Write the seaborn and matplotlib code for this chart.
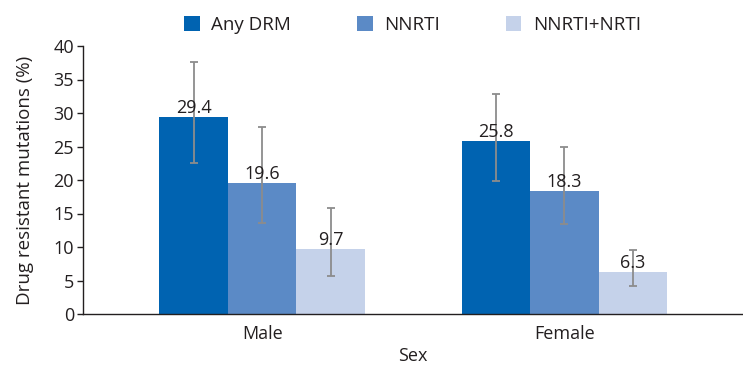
import matplotlib
matplotlib.use("Agg")
import matplotlib.pyplot as plt
import seaborn as sns
import pandas as pd
import numpy as np

# Drug resistance by sex, with 95% confidence intervals
sexes = ["Male", "Female"]
groups = ["Any DRM", "NNRTI", "NNRTI+NRTI"]
values = {
    "Any DRM": [29.4, 25.8],
    "NNRTI": [19.6, 18.3],
    "NNRTI+NRTI": [9.7, 6.3],
}
ci_low = {
    "Any DRM": [22.5, 19.9],
    "NNRTI": [13.6, 13.4],
    "NNRTI+NRTI": [5.7, 4.2],
}
ci_high = {
    "Any DRM": [37.6, 32.8],
    "NNRTI": [27.9, 24.9],
    "NNRTI+NRTI": [15.8, 9.5],
}
colors = ["#0063B1", "#5B8AC6", "#C5D2EA"]

rows = []
for g in groups:
    for i, s in enumerate(sexes):
        rows.append({"Sex": s, "Group": g, "Value": values[g][i]})
df = pd.DataFrame(rows)

sns.set_theme(style="white")
plt.rcParams["font.family"] = ["Open Sans", "DejaVu Sans"]
text_color = "#231F20"

fig = plt.figure(figsize=(7.43, 3.67), dpi=100)
ax = fig.add_axes([83 / 743, 53 / 367, (742 - 83) / 743, (314 - 46) / 367])

sns.barplot(data=df, x="Sex", y="Value", hue="Group", order=sexes,
            hue_order=groups, palette=colors, width=0.68, saturation=1,
            errorbar=None, linewidth=0, ax=ax)

# Error bars and value labels placed at each bar's centre
for gi, g in enumerate(groups):
    container = ax.containers[gi]
    for si, bar in enumerate(container):
        cx = bar.get_x() + bar.get_width() / 2
        v = values[g][si]
        lo, hi = ci_low[g][si], ci_high[g][si]
        ax.errorbar(cx, v, yerr=[[v - lo], [hi - v]], fmt="none",
                    ecolor="#8C8C8C", elinewidth=1.3, capsize=2.6,
                    capthick=1.3, zorder=3)
        ax.text(cx, v + 0.6, f"{v}", ha="center", va="baseline",
                fontsize=13, color=text_color, zorder=4)

ax.set_ylim(0, 40)
ax.set_xlim(-0.593, 1.588)
ax.set_yticks(np.arange(0, 41, 5))
ax.set_ylabel("Drug resistant mutations (%)", fontsize=13.5, color=text_color, labelpad=14)
ax.set_xlabel("Sex", fontsize=13, color=text_color, labelpad=3)
ax.tick_params(axis="y", length=4.5, width=1, color=text_color, labelsize=13,
               labelcolor=text_color, pad=2, left=True)
ax.tick_params(axis="x", length=0, labelsize=13, labelcolor=text_color, pad=8)

for side in ["top", "right"]:
    ax.spines[side].set_visible(False)
for side in ["left", "bottom"]:
    ax.spines[side].set_color(text_color)
    ax.spines[side].set_linewidth(1.0)

handles, labels = ax.get_legend_handles_labels()
ax.legend(handles, labels, loc="center", bbox_to_anchor=(0.5, 1.078),
          ncol=3, frameon=False, fontsize=13.5, handlelength=0.85,
          handleheight=0.85, handletextpad=0.6, columnspacing=3.5,
          labelcolor=text_color)

fig.savefig("out.png", dpi=100)
